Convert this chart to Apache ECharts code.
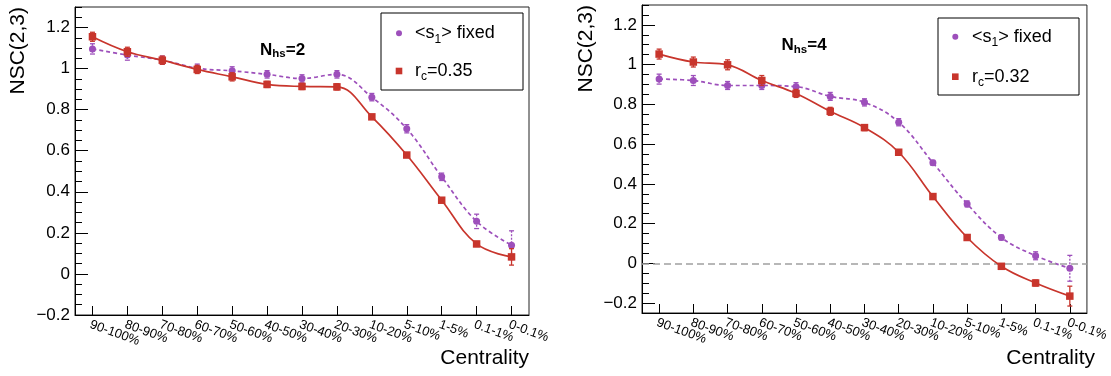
<!DOCTYPE html>
<html>
<head>
<meta charset="utf-8">
<script src="https://cdn.jsdelivr.net/npm/echarts@6/dist/echarts.min.js"></script>
<style>
html,body{margin:0;padding:0;background:#fff;}
#chart{width:1111px;height:376px;}
</style>
</head>
<body>
<div id="chart"></div>
<script>
// ---------------- data ----------------
const categories = ['90-100%','80-90%','70-80%','60-70%','50-60%','40-50%','30-40%','20-30%','10-20%','5-10%','1-5%','0.1-1%','0-0.1%'];

// left panel: N_hs = 2
const nhs2_s1Fixed    = [1.096,1.066,1.041,1.002,0.989,0.972,0.952,0.972,0.861,0.707,0.473,0.256,0.140];
const nhs2_s1FixedErr = [0.025,0.025,0.02,0.02,0.02,0.018,0.018,0.018,0.018,0.02,0.018,0.035,0.07];
const nhs2_rc035      = [1.155,1.082,1.041,0.996,0.960,0.923,0.913,0.911,0.765,0.579,0.359,0.146,0.083];
const nhs2_rc035Err   = [0.022,0.022,0.02,0.02,0.02,0.015,0.015,0.015,0.01,0.01,0.01,0.012,0.04];

// right panel: N_hs = 4
const nhs4_s1Fixed    = [0.927,0.920,0.895,0.895,0.889,0.840,0.810,0.710,0.506,0.299,0.130,0.038,-0.025];
const nhs4_s1FixedErr = [0.025,0.025,0.02,0.02,0.02,0.02,0.018,0.018,0.012,0.015,0.012,0.02,0.065];
const nhs4_rc032      = [1.053,1.013,0.999,0.920,0.855,0.765,0.683,0.559,0.336,0.130,-0.015,-0.099,-0.165];
const nhs4_rc032Err   = [0.025,0.025,0.025,0.025,0.02,0.02,0.015,0.012,0.01,0.01,0.01,0.015,0.05];

// axis ticks
const yTickValues = [-0.2,0,0.2,0.4,0.6,0.8,1.0,1.2];
const yRangeLeft  = [-0.2, 1.3];
const yRangeRight = [-0.25, 1.3];

// ---------------- styling ----------------
const FONT = '"Liberation Sans", Arial, Helvetica, sans-serif';
const RED = '#c8352c';
const PURPLE = '#9d4fbb';

function minorTicks(range){
  const out = [];
  for (let k = Math.ceil(range[0]/0.05 - 1e-6); k*0.05 <= range[1] + 1e-9; k++) {
    out.push(+(k*0.05).toFixed(2));
  }
  return out;
}
function fmt(v){
  if (Math.abs(v) < 1e-9) return '0';
  return String(+v.toFixed(1)).replace('-', '\u2212');
}

const grids = [
  {left:75, top:7, width:454, height:308},
  {left:642, top:5, width:454, height:308}
];

function xAxis(gi){
  return {
    gridIndex: gi, type:'category', data: categories, boundaryGap: true,
    axisLine:{show:true, onZero:false, lineStyle:{color:'#000', width:1}},
    axisTick:{show:true, inside:true, length:9, alignWithLabel:true, interval:0, lineStyle:{color:'#000'}},
    axisLabel:{interval:0, rotate:-20, fontSize:13, fontFamily:FONT, color:'#000', margin:3, align:'left', verticalAlign:'top'},
    splitLine:{show:false}
  };
}
function yAxisMajor(gi, range){
  return {
    gridIndex: gi, type:'value', min: range[0], max: range[1],
    axisLine:{show:true, onZero:false, lineStyle:{color:'#000', width:1}},
    axisTick:{show:true, inside:true, length:13, customValues: yTickValues, lineStyle:{color:'#000'}},
    axisLabel:{customValues: yTickValues, formatter: fmt, fontSize:17, fontFamily:FONT, color:'#000', margin:5},
    splitLine:{show:false}
  };
}
function yAxisMinor(gi, range){
  return {
    gridIndex: gi, type:'value', min: range[0], max: range[1], position:'left',
    axisLine:{show:false, onZero:false},
    axisTick:{show:true, inside:true, length:7, customValues: minorTicks(range), lineStyle:{color:'#000'}},
    axisLabel:{show:false},
    splitLine:{show:false}
  };
}

function lineSeries(name, xi, yi, values, color, dashed, z){
  return {
    name, type:'line', xAxisIndex:xi, yAxisIndex:yi,
    data: values, smooth: 0.4,
    symbol: dashed ? 'circle' : 'rect', symbolSize: dashed ? 7 : 7.5,
    itemStyle:{color, borderWidth:0},
    lineStyle:{color, width:1.7, type: dashed ? [4,3] : 'solid'},
    z, animation:false
  };
}
function errSeries(xi, yi, values, errs, color, dashed, z){
  return {
    type:'custom', xAxisIndex:xi, yAxisIndex:yi, z, animation:false,
    encode:{x:0, y:1},
    data: values.map((v,i)=>[i, v, errs[i]]),
    renderItem: function(params, api){
      const x = api.value(0), v = api.value(1), e = api.value(2);
      const t = api.coord([x, v+e]), b = api.coord([x, v-e]);
      const w = 2.5;
      const st = {stroke: color, lineWidth: 1.3, lineDash: dashed ? [2,1.5] : null};
      return {type:'group', children:[
        {type:'line', shape:{x1:t[0], y1:t[1], x2:b[0], y2:b[1]}, style: st},
        {type:'line', shape:{x1:t[0]-w, y1:t[1], x2:t[0]+w, y2:t[1]}, style:{stroke:color, lineWidth:1.3}},
        {type:'line', shape:{x1:b[0]-w, y1:b[1], x2:b[0]+w, y2:b[1]}, style:{stroke:color, lineWidth:1.3}}
      ]};
    }
  };
}

const mainRich = {
  n:{fontSize:18, fontFamily:FONT, color:'#000', lineHeight:24},
  sub:{fontSize:12, fontFamily:FONT, color:'#000', lineHeight:8, verticalAlign:'bottom'}
};
const titleRich = {
  n:{fontSize:17, fontWeight:'bold', fontFamily:FONT, color:'#000', lineHeight:20},
  sub:{fontSize:11.5, fontWeight:'bold', fontFamily:FONT, color:'#000', lineHeight:7, verticalAlign:'bottom'}
};

function textEl(x, y, text, rich, align){
  return {type:'text', x, y, z:100, style:{text, rich, fill:'#000', font:'18px ' + FONT,
    align: align || 'left', textAlign: align || 'left', verticalAlign:'middle', textVerticalAlign:'middle'}};
}
function legendEls(bx, by, bw, bh, cx, cy1, cy2, tx, label2){
  return [
    {type:'rect', z:90, shape:{x:bx, y:by, width:bw, height:bh}, style:{fill:'#fff', stroke:'#000', lineWidth:1}},
    {type:'circle', z:95, shape:{cx:cx, cy:cy1, r:3}, style:{fill:PURPLE}},
    {type:'rect', z:95, shape:{x:cx-3.3, y:cy2-3.3, width:6.6, height:6.6}, style:{fill:RED}},
    textEl(tx, cy1, '{n|<s}{sub|1}{n|> fixed}', mainRich),
    textEl(tx, cy2, label2, mainRich)
  ];
}

const option = {
  animation:false,
  backgroundColor:'#fff',
  grid: grids.map(g => Object.assign({show:true, borderColor:'#222', borderWidth:1, backgroundColor:'transparent'}, g)),
  xAxis: [xAxis(0), xAxis(1)],
  yAxis: [yAxisMajor(0, yRangeLeft), yAxisMinor(0, yRangeLeft), yAxisMajor(1, yRangeRight), yAxisMinor(1, yRangeRight)],
  series: [
    errSeries(0, 0, nhs2_s1Fixed, nhs2_s1FixedErr, PURPLE, true, 2),
    lineSeries('<s1> fixed (Nhs=2)', 0, 0, nhs2_s1Fixed, PURPLE, true, 3),
    errSeries(0, 0, nhs2_rc035, nhs2_rc035Err, RED, false, 4),
    lineSeries('rc=0.35', 0, 0, nhs2_rc035, RED, false, 5),

    errSeries(1, 2, nhs4_s1Fixed, nhs4_s1FixedErr, PURPLE, true, 2),
    Object.assign(lineSeries('<s1> fixed (Nhs=4)', 1, 2, nhs4_s1Fixed, PURPLE, true, 3), {
      markLine:{silent:true, symbol:'none', label:{show:false}, animation:false,
        lineStyle:{color:'#a0a0a0', type:[7,4], width:1.5}, data:[{yAxis:0}]}
    }),
    errSeries(1, 2, nhs4_rc032, nhs4_rc032Err, RED, false, 4),
    lineSeries('rc=0.32', 1, 2, nhs4_rc032, RED, false, 5)
  ],
  graphic: [
    // y-axis titles
    {type:'text', x:18, y:7, rotation:Math.PI/2, style:{text:'NSC(2,3)', font:'21px ' + FONT, fill:'#000',
      align:'right', textAlign:'right', verticalAlign:'middle', textVerticalAlign:'middle'}},
    {type:'text', x:586, y:5, rotation:Math.PI/2, style:{text:'NSC(2,3)', font:'21px ' + FONT, fill:'#000',
      align:'right', textAlign:'right', verticalAlign:'middle', textVerticalAlign:'middle'}},
    // x-axis titles
    {type:'text', x:529, y:348, style:{text:'Centrality', font:'21px ' + FONT, fill:'#000',
      align:'right', textAlign:'right', verticalAlign:'top', textVerticalAlign:'top'}},
    {type:'text', x:1095, y:348, style:{text:'Centrality', font:'21px ' + FONT, fill:'#000',
      align:'right', textAlign:'right', verticalAlign:'top', textVerticalAlign:'top'}},
    // panel labels
    textEl(260, 50, '{n|N}{sub|hs}{n|=2}', titleRich),
    textEl(781.5, 45.5, '{n|N}{sub|hs}{n|=4}', titleRich)
  ].concat(
    legendEls(381, 13, 142, 77, 399, 33.3, 71, 415, '{n|r}{sub|c}{n|=0.35}'),
    legendEls(938, 18, 141, 77, 955.3, 36.7, 76.7, 972, '{n|r}{sub|c}{n|=0.32}')
  )
};

const chart = echarts.init(document.getElementById('chart'), null, {renderer:'canvas'});
chart.setOption(option);
</script>
</body>
</html>
